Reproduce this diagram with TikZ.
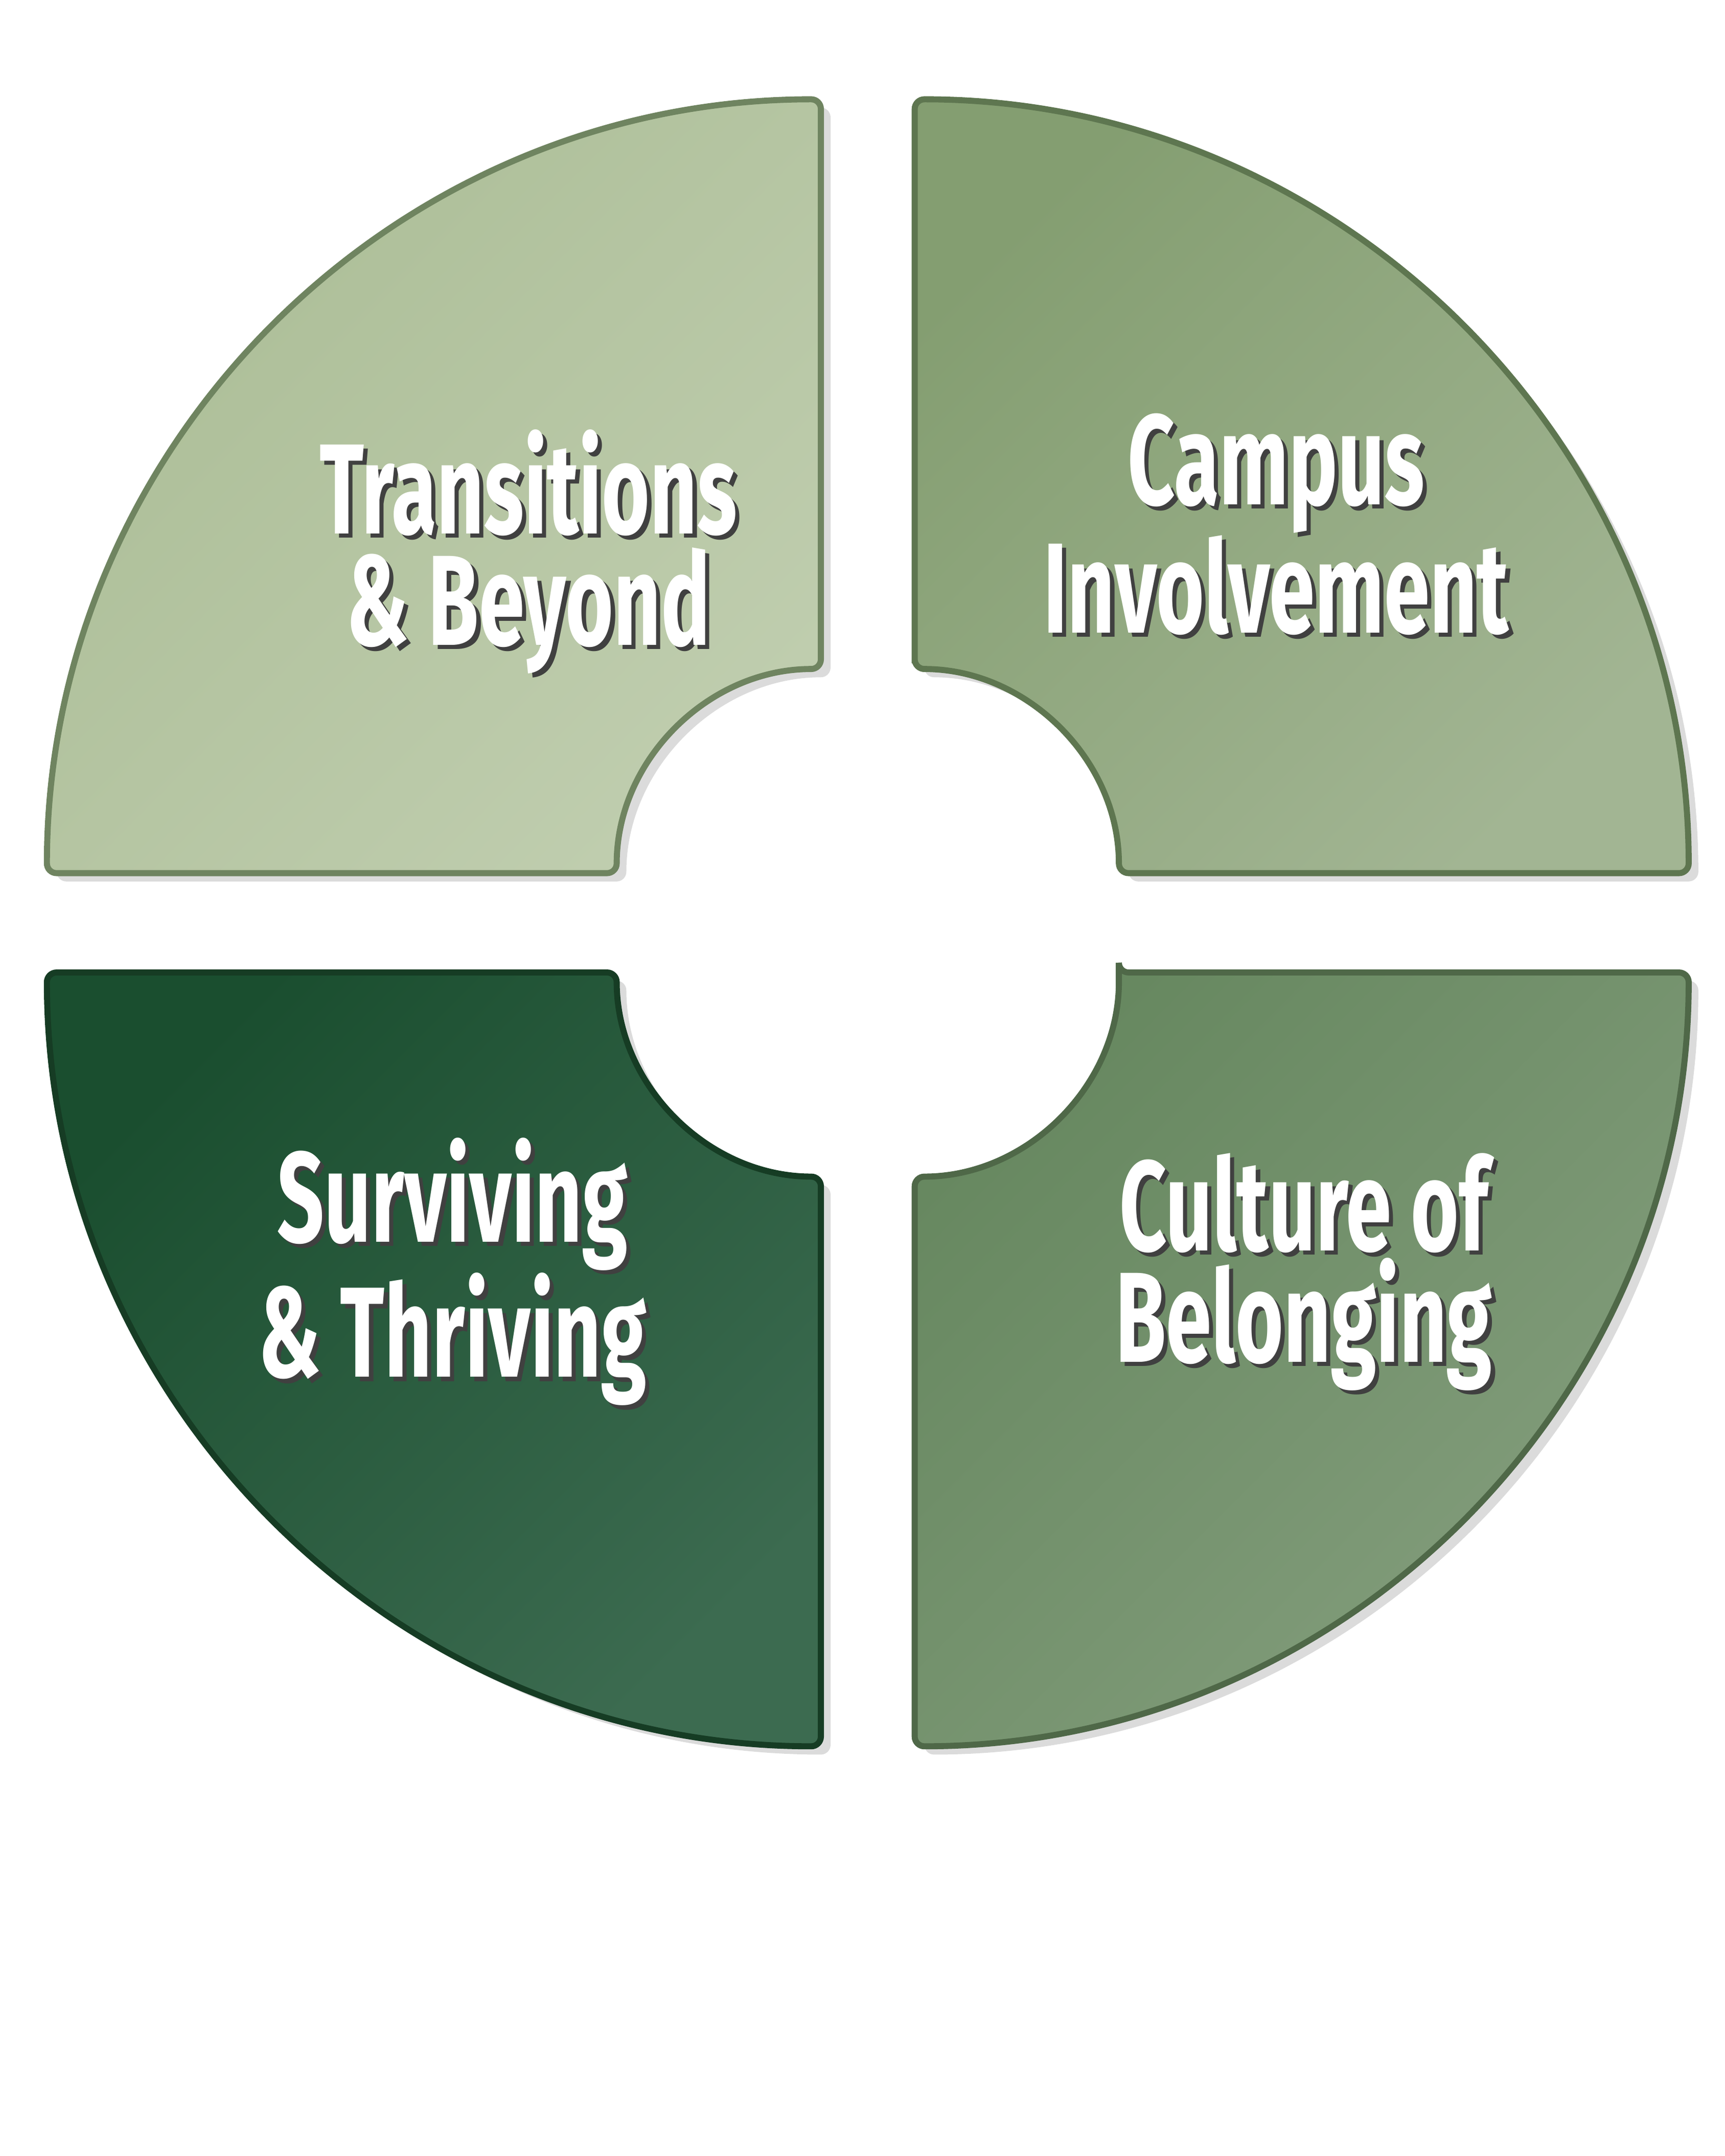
\documentclass[tikz,border=0pt]{standalone}
\usepackage{fontspec}
\newfontfamily\labelfont[FakeStretch=0.64]{Fira Sans}
\usetikzlibrary{positioning}
\definecolor{tldark}{HTML}{ABBD96}
\definecolor{tllight}{HTML}{BFCDAE}
\definecolor{tlline}{HTML}{6F8460}
\definecolor{trdark}{HTML}{849E71}
\definecolor{trlight}{HTML}{A2B593}
\definecolor{trline}{HTML}{5E7650}
\definecolor{bldark}{HTML}{1A4E2F}
\definecolor{bllight}{HTML}{3C6B50}
\definecolor{blline}{HTML}{163C24}
\definecolor{brdark}{HTML}{678860}
\definecolor{brlight}{HTML}{849E7D}
\definecolor{brline}{HTML}{4F6848}
\begin{document}
\begin{tikzpicture}[x=0.02cm,y=0.02cm]

% definitions
\tikzset{
  quad/.style={rounded corners=4pt, line width=2.5pt},
  quadshadow/.style={rounded corners=4pt, fill=black!14, draw=none},
  labeltext/.style={align=center, text=white, font=\labelfont\bfseries\fontsize{53}{46}\selectfont},
  labelshadow/.style={align=center, text=black!75, font=\labelfont\bfseries\fontsize{53}{46}\selectfont}
}
\newcommand{\quadlabel}[3]{%
  \node[labelshadow] at ([shift={(3,-3)}]#1) {#3};
  \node[labeltext] (#2) at (#1) {#3};}

\useasboundingbox (0,0) rectangle (1250,1563);

% shadows
\fill[quadshadow, shift={(7,-6)}] (595,1491) arc[start angle=90,end angle=180,radius=561] -- (447,930) arc[start angle=180,end angle=90,radius=148] -- cycle;
\fill[quadshadow, shift={(7,-6)}] (663,1078) -- (663,1491) arc[start angle=90,end angle=0,radius=561] -- (811,930) arc[start angle=0,end angle=90,radius=148] -- cycle;
\fill[quadshadow, shift={(7,-6)}] (34,858) arc[start angle=180,end angle=270,radius=561] -- (595,710) arc[start angle=270,end angle=180,radius=148] -- cycle;
\fill[quadshadow, shift={(7,-6)}] (811,858) -- (1224,858) arc[start angle=0,end angle=-90,radius=561] -- (663,710) arc[start angle=270,end angle=360,radius=148] -- cycle;

% the quadrants
\draw[quad, draw=tlline, top color=tldark, bottom color=tllight, shading angle=45]
  (595,1491) arc[start angle=90,end angle=180,radius=561] -- (447,930) arc[start angle=180,end angle=90,radius=148] -- cycle;
\draw[quad, draw=trline, top color=trdark, bottom color=trlight, shading angle=45]
  (663,1078) -- (663,1491) arc[start angle=90,end angle=0,radius=561] -- (811,930) arc[start angle=0,end angle=90,radius=148] -- cycle;
\draw[quad, draw=blline, top color=bldark, bottom color=bllight, shading angle=45]
  (34,858) arc[start angle=180,end angle=270,radius=561] -- (595,710) arc[start angle=270,end angle=180,radius=148] -- cycle;
\draw[quad, draw=brline, top color=brdark, bottom color=brlight, shading angle=45]
  (811,858) -- (1224,858) arc[start angle=0,end angle=-90,radius=561] -- (663,710) arc[start angle=270,end angle=360,radius=148] -- cycle;

% the labels
\quadlabel{383,1163}{transitions}{Transitions\\\& Beyond}
\quadlabel{925,1183}{campus}{Campus\\Involvement}
\quadlabel{328,641}{surviving}{Surviving\\\& Thriving}
\quadlabel{945,641}{culture}{Culture of\\Belonging}

\end{tikzpicture}
\end{document}
